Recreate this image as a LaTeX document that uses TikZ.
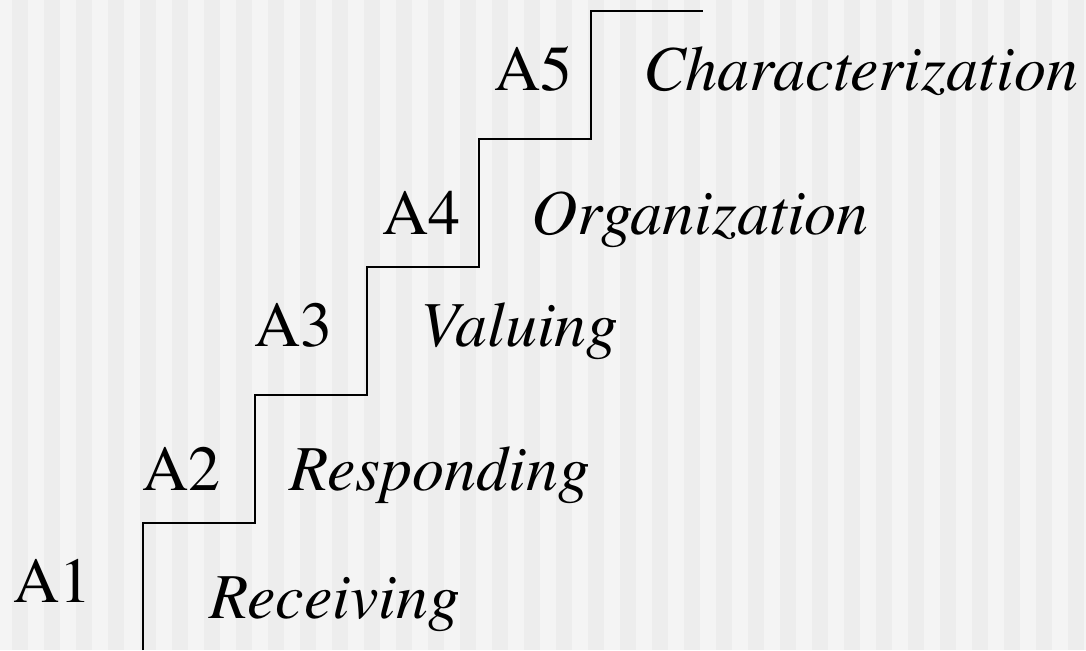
\documentclass[tikz,border=0pt]{standalone}
\usepackage{fontspec}
\setmainfont{texgyretermes}[Extension=.otf,UprightFont=*-regular,ItalicFont=*-italic]
\definecolor{stripelight}{HTML}{F4F4F4}
\definecolor{stripedark}{HTML}{EDEDED}
\tikzset{
  levellabel/.style={anchor=base west,inner sep=0pt,font=\fontsize{64}{72}\selectfont},
  stagelabel/.style={levellabel,font=\fontsize{64}{72}\selectfont\itshape},
  stair/.style={line width=1.6pt,line join=miter}
}
\begin{document}
\begin{tikzpicture}[x=1pt,y=1pt]
\useasboundingbox (0,0) rectangle (1086,650);
\fill[stripelight] (0,0) rectangle (1086,650);
\foreach \k in {0,...,33}
  \fill[stripedark] (12+32*\k,0) rectangle (28+32*\k,650);

\draw[stair] (143,0) -- (143,127) -- (255,127) -- (255,255) -- (367,255)
  -- (367,383) -- (479,383) -- (479,511) -- (591,511) -- (591,639) -- (703,639);

\node[levellabel] (a1) at (13,47) {A1};
\node[stagelabel] (rec) at (209,31) {Receiving};

\node[levellabel] (a2) at (142,159) {A2};
\node[stagelabel] (res) at (289,159) {Responding};

\node[levellabel] (a3) at (254,303) {A3};
\node[stagelabel] (val) at (420,303) {Valuing};

\node[levellabel] (a4) at (382,415) {A4};
\node[stagelabel] (org) at (531,415) {Organization};

\node[levellabel] (a5) at (494,559) {A5};
\node[stagelabel] (cha) at (643,559) {Characterization};
\end{tikzpicture}
\end{document}
